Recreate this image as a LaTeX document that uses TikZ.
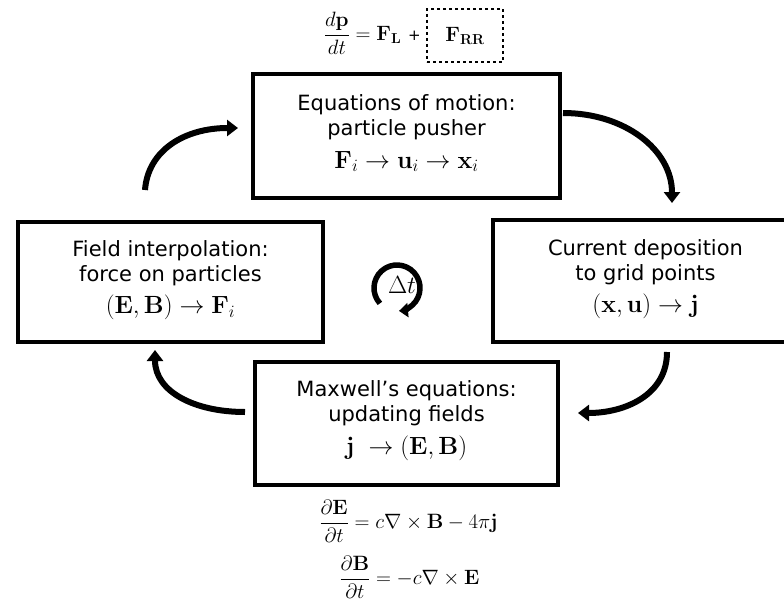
\documentclass[tikz,border=0pt]{standalone}
\usepackage{amsmath}
\usepackage[no-math]{fontspec}
\setmainfont{DejaVu Sans}
\usetikzlibrary{arrows.meta}
\tikzset{
  stagebox/.style={draw=black, line width=4pt, inner sep=0pt},
  boxtext/.style={align=center, inner sep=0pt, font=\fontsize{21}{25}\selectfont},
  cyclearrow/.style={line width=6pt, -{Triangle[length=11pt,width=16pt]}},
  eqnode/.style={inner sep=0pt, font=\fontsize{21}{25}\selectfont},
}
\newcommand{\boxmath}{\fontsize{23}{27}\selectfont}
\begin{document}
\begin{tikzpicture}[x=1pt,y=1pt]
\clip (0,0) rectangle (784,-607);
\fill[white] (0,0) rectangle (784,-607);

% boxes
\node[stagebox, minimum width=307pt, minimum height=124pt] (push) at (406.5,-136) {};
\node[stagebox, minimum width=305pt, minimum height=120pt] (interp) at (170.5,-282) {};
\node[stagebox, minimum width=305pt, minimum height=122pt] (depo) at (645.5,-281) {};
\node[stagebox, minimum width=303pt, minimum height=123pt] (maxw) at (406.5,-423.5) {};

\node[boxtext] (pushtxt) at ([yshift=3pt]push.center)
  {Equations of motion:\\particle pusher\\[8pt]\boxmath$\mathbf{F}_i \rightarrow \mathbf{u}_i \rightarrow \mathbf{x}_i$};
\node[boxtext] (interptxt) at ([yshift=2pt]interp.center)
  {Field interpolation:\\force on particles\\[7pt]\boxmath$(\mathbf{E},\mathbf{B}) \rightarrow \mathbf{F}_i$};
\node[boxtext] (depotxt) at ([yshift=2pt]depo.center)
  {Current deposition\\to grid points\\[7pt]\boxmath$(\mathbf{x},\mathbf{u}) \rightarrow \mathbf{j}$};
\node[boxtext] (maxwtxt) at ([yshift=3pt]maxw.center)
  {Maxwell's equations:\\updating fields\\[8pt]\boxmath$\mathbf{j}\ \rightarrow (\mathbf{E},\mathbf{B})$};

% top equation
\node[eqnode, anchor=east, font=\fontsize{22}{26}\selectfont] (eqtop) at (421,-33)
  {$\dfrac{d\mathbf{p}}{dt} = \mathbf{F}_{\mathbf{L}}$ \fontsize{15}{18}\selectfont +};
\node[eqnode, draw, dashed, line width=2.2pt, dash pattern=on 3pt off 3pt,
  minimum width=76pt, minimum height=53pt, font=\fontsize{22}{26}\selectfont] (frr) at (465,-35.5)
  {$\mathbf{F}_{\mathbf{RR}}$};

% bottom equations
\node[eqnode] (eqE) at (408.5,-521)
  {$\dfrac{\partial \mathbf{E}}{\partial t} = c\nabla \times \mathbf{B} - 4\pi \mathbf{j}$};
\node[eqnode] (eqB) at (409.5,-577)
  {$\dfrac{\partial \mathbf{B}}{\partial t} = -c\nabla \times \mathbf{E}$};

% time step symbol
\node[inner sep=0pt, font=\fontsize{24}{28}\selectfont] (dt) at (402,-285) {$\Delta t$};
\coordinate (dtc) at (397,-288);
\draw[line width=5.5pt, -{Triangle[length=9pt,width=14pt]}]
  ([shift={(222:23)}]dtc) arc[start angle=222, end angle=-85, radius=23];

% cycle arrows
\coordinate (a1s) at (145,-190);
\coordinate (a1e) at (238,-128);
\coordinate (a2s) at (563,-113);
\coordinate (a2e) at (672,-203);
\coordinate (a3s) at (667,-352);
\coordinate (a3e) at (578,-413);
\coordinate (a4s) at (245,-412);
\coordinate (a4e) at (155,-350);
\draw[cyclearrow] (a1s) .. controls (148,-150) and (185,-128) .. (a1e);
\draw[cyclearrow] (a2s) .. controls (625,-113) and (672,-150) .. (a2e);
\draw[cyclearrow] (a3s) .. controls (667,-395) and (625,-413) .. (a3e);
\draw[cyclearrow] (a4s) .. controls (195,-412) and (155,-392) .. (a4e);
\end{tikzpicture}
\end{document}
